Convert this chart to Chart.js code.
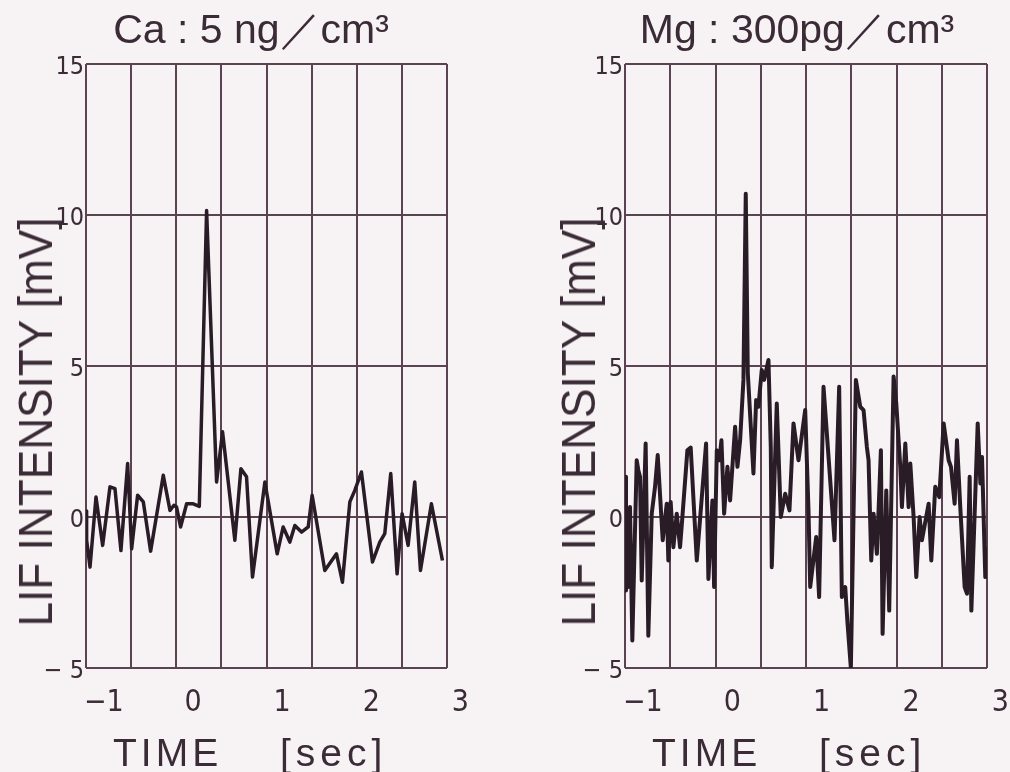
<!DOCTYPE html>
<html><head><meta charset="utf-8">
<script src="https://cdn.jsdelivr.net/npm/chart.js@4"></script>
<style>
html,body{margin:0;padding:0;background:#f7f3f5;width:1010px;height:772px;overflow:hidden;}
#wrap{position:relative;width:1010px;height:772px;}
canvas{position:absolute;top:0;}
.t{position:absolute;color:#3b2b36;font-family:'Liberation Sans',Arial,sans-serif;white-space:nowrap;line-height:1;}
</style></head>
<body><div id="wrap">
<canvas id="c1" width="505" height="772" style="left:0"></canvas>
<canvas id="c2" width="505" height="772" style="left:505px"></canvas>
<div class="t" style="left:251px;top:9px;font-size:41px;transform:translateX(-50%)">Ca : 5 ng／cm³</div>
<div class="t" style="left:797px;top:9px;font-size:41px;transform:translateX(-50%)">Mg : 300pg／cm³</div>
<div class="t" style="left:113px;top:733px;font-size:39px;letter-spacing:4px">TIME</div>
<div class="t" style="left:280px;top:733px;font-size:39px;letter-spacing:5px">[sec]</div>
<div class="t" style="left:652px;top:733px;font-size:39px;letter-spacing:4px">TIME</div>
<div class="t" style="left:819px;top:733px;font-size:39px;letter-spacing:5px">[sec]</div>
<div class="t" style="left:36px;top:422px;font-size:48px;transform:translate(-50%,-50%) rotate(-90deg) scaleX(0.92)">LIF INTENSITY [mV]</div>
<div class="t" style="left:579px;top:422px;font-size:48px;transform:translate(-50%,-50%) rotate(-90deg) scaleX(0.92)">LIF INTENSITY [mV]</div>
</div>
<script>
// ---- data ----
const X_MIN = -1.2, X_MAX = 2.85;
const X_TICKS = [-1, 0, 1, 2, 3];
const Y_TICKS = [-5, 0, 5, 10, 15];

const CA_TIME = [-1.2,-1.193,-1.155,-1.088,-1.013,-0.931,-0.875,-0.808,-0.733,-0.688,-0.621,-0.557,-0.475,-0.333,-0.258,-0.213,-0.184,-0.139,-0.071,-0.004,0.071,0.153,0.265,0.332,0.470,0.538,0.601,0.668,0.807,0.945,1.012,1.087,1.143,1.218,1.293,1.337,1.479,1.610,1.677,1.760,1.816,1.890,2.014,2.096,2.152,2.219,2.290,2.346,2.414,2.488,2.552,2.675,2.799];
const CA_VALUE = [0.2,-0.77,-1.66,0.66,-0.94,1.0,0.94,-1.11,1.77,-1.05,0.72,0.5,-1.13,1.38,0.22,0.39,0.33,-0.33,0.44,0.44,0.35,10.15,1.16,2.82,-0.77,1.6,1.33,-1.99,1.16,-1.22,-0.33,-0.83,-0.28,-0.5,-0.33,0.72,-1.77,-1.22,-2.16,0.5,0.88,1.49,-1.49,-0.83,-0.55,1.44,-1.88,0.11,-0.94,1.16,-1.77,0.44,-1.44];

const MG_TIME = [-1.2,-1.189,-1.174,-1.163,-1.144,-1.118,-1.069,-1.051,-1.032,-1.013,-0.969,-0.939,-0.901,-0.864,-0.834,-0.778,-0.733,-0.715,-0.689,-0.659,-0.621,-0.584,-0.558,-0.502,-0.465,-0.397,-0.293,-0.267,-0.222,-0.203,-0.173,-0.144,-0.121,-0.091,-0.054,-0.024,0.032,0.058,0.088,0.125,0.151,0.174,0.237,0.267,0.293,0.330,0.357,0.405,0.431,0.442,0.498,0.543,0.592,0.640,0.685,0.741,0.816,0.853,0.872,0.939,0.972,1.021,1.144,1.196,1.226,1.264,1.290,1.327,1.383,1.432,1.469,1.506,1.525,1.555,1.581,1.618,1.663,1.682,1.723,1.756,1.805,1.835,1.861,1.880,1.898,1.936,1.973,1.992,2.029,2.059,2.096,2.122,2.197,2.227,2.271,2.316,2.365,2.421,2.447,2.488,2.514,2.551,2.600,2.626,2.656,2.675,2.746,2.776,2.794,2.831,2.854];
const MG_VALUE = [1.33,-2.43,-1.0,-2.32,0.33,-4.09,1.88,1.55,1.33,-2.10,2.43,-3.93,0.11,1.0,2.05,-0.77,0.44,-1.44,0.5,-1.0,0.11,-1.0,0.0,2.21,2.30,-1.44,2.43,-2.05,0.55,-2.32,2.21,1.88,2.54,0.11,1.66,0.55,2.99,1.66,2.54,4.54,10.7,4.76,1.44,3.87,3.65,4.87,4.54,5.2,2.32,-1.66,3.76,0.0,0.77,0.22,3.10,1.88,3.54,0.22,-2.32,-0.66,-2.65,4.31,-0.77,4.31,-2.65,-2.32,-3.54,-5.0,4.54,3.65,3.54,2.32,1.88,-1.44,0.11,-1.22,2.21,-3.87,0.88,-3.10,4.65,3.76,2.54,1.66,0.33,2.43,0.33,1.77,0.0,-1.99,0.0,-0.77,0.44,-1.44,1.0,0.66,3.10,1.88,1.66,0.44,2.54,0.33,-2.32,-2.54,1.33,-3.10,3.10,1.11,1.99,-1.99,-1.0];

// ---- styling ----
const GRID_DIVS = 8;
const GRID_COLOR = '#5b4352';
const INK = '#3b2b36';
const LINE = '#2a1c27';
const TICK_FAMILY = "'DejaVu Sans Condensed','Liberation Sans Narrow','DejaVu Sans',sans-serif";

function fmt(v, spaced) {
  if (v < 0) return '\u2212' + (spaced ? ' ' : '') + Math.abs(v);
  return String(v);
}

function makeChart(id, times, values, yAxisWidth, padRight, lineW) {
  const pts = times.map((t, i) => ({x: t, y: values[i]}));
  return new Chart(document.getElementById(id), {
    type: 'line',
    data: {datasets: [{data: pts, borderColor: LINE, borderWidth: lineW, borderJoinStyle: 'round', pointRadius: 0, tension: 0, fill: false, xAxisID: 'x', yAxisID: 'y'}]},
    options: {
      responsive: false, animation: false,
      layout: {padding: {left: 0, right: padRight, top: 64, bottom: 4}},
      plugins: {legend: {display: false}, tooltip: {enabled: false}, title: {display: false}},
      scales: {
        xg: {
          type: 'linear', position: 'bottom', min: X_MIN, max: X_MAX,
          afterBuildTicks: s => { const out = []; for (let k = 0; k <= GRID_DIVS; k++) out.push({value: X_MIN + k * (X_MAX - X_MIN) / GRID_DIVS}); s.ticks = out; },
          ticks: {display: false},
          grid: {color: GRID_COLOR, lineWidth: 2, drawTicks: false},
          border: {display: false},
          afterFit: s => { s.height = 0; s.paddingLeft = 0; s.paddingRight = 0; }
        },
        x: {
          type: 'linear', position: 'bottom', min: X_MIN, max: X_MAX,
          afterBuildTicks: s => { s.ticks = X_TICKS.map(v => ({value: v})); },
          ticks: {autoSkip: false, maxRotation: 0, padding: 17, color: INK, font: {family: TICK_FAMILY, size: 30}, callback: v => fmt(v, false)},
          grid: {display: false, drawTicks: false},
          border: {display: false},
          afterFit: s => { s.height = 100; s.paddingLeft = 0; s.paddingRight = 0; }
        },
        y: {
          type: 'linear', min: -5, max: 15,
          afterBuildTicks: s => { s.ticks = Y_TICKS.map(v => ({value: v})); },
          ticks: {padding: 2, labelOffset: 3, color: INK, font: {family: TICK_FAMILY, size: 25}, callback: v => fmt(v, true)},
          grid: {color: GRID_COLOR, lineWidth: 2, drawTicks: false},
          border: {display: false},
          afterFit: s => { s.width = yAxisWidth; s.paddingTop = 0; s.paddingBottom = 0; }
        }
      }
    }
  });
}

makeChart('c1', CA_TIME, CA_VALUE, 86, 58, 3.5);
makeChart('c2', MG_TIME, MG_VALUE, 120, 23, 4);
</script>
</body></html>
